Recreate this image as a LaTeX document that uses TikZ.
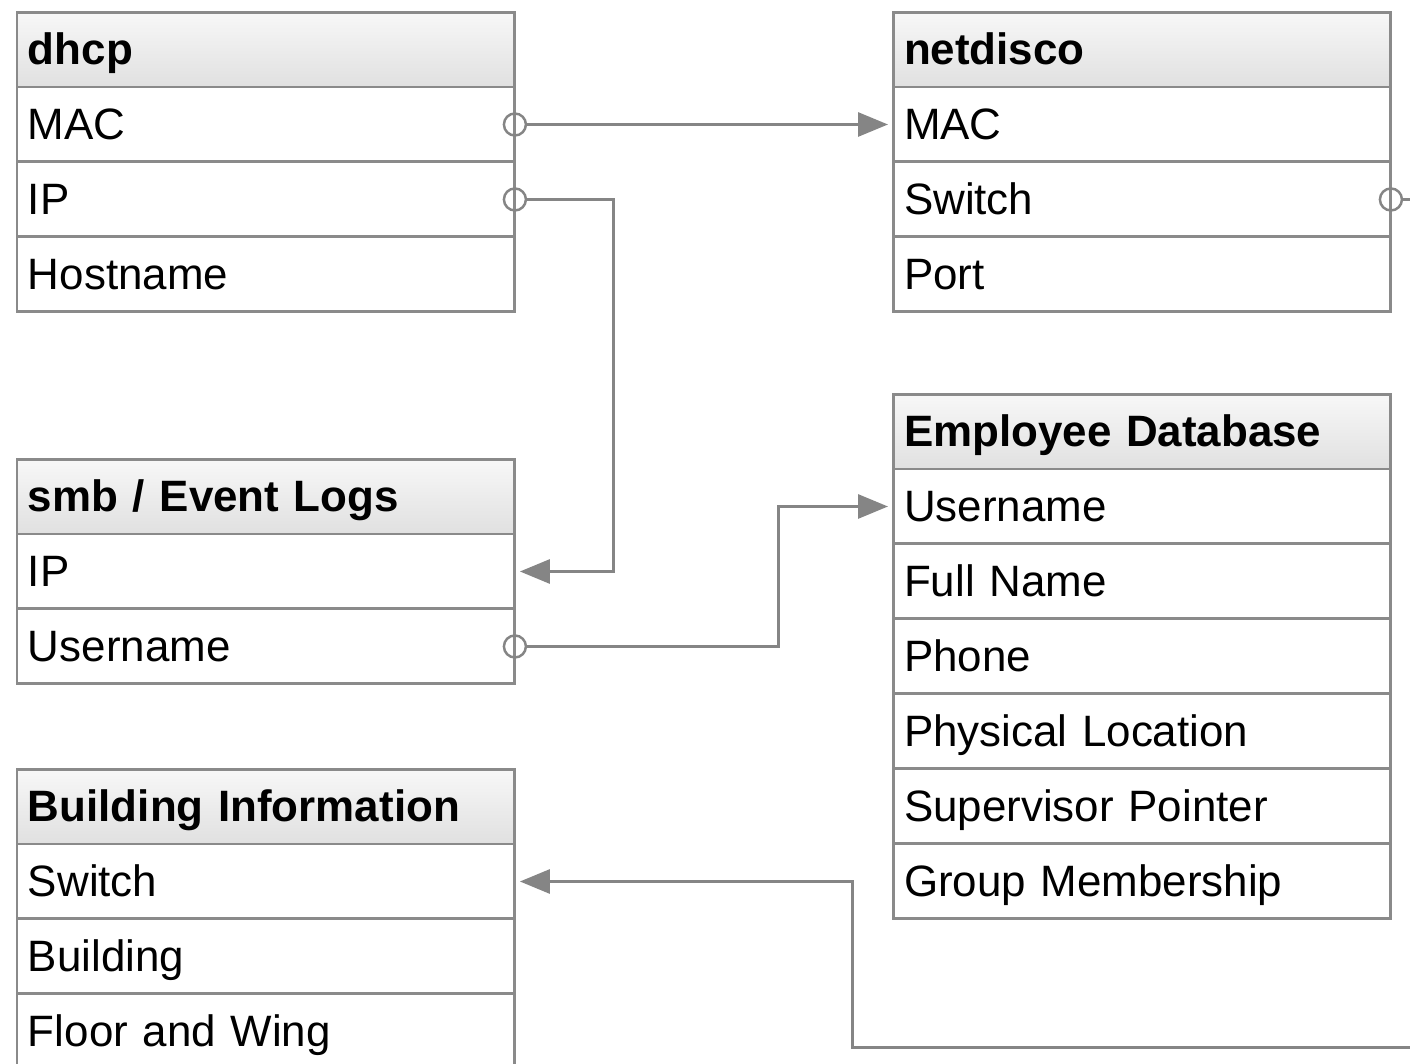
\documentclass[tikz,border=0pt]{standalone}
\usepackage{fontspec}
\setmainfont{Liberation Sans}
\usetikzlibrary{positioning}
\usetikzlibrary{arrows.meta}
\definecolor{framegray}{HTML}{8A8A8A}
\definecolor{linkgray}{HTML}{858585}
\tikzset{
	field/.style={rectangle, draw=framegray, line width=1.7pt, fill=white, outer sep=0pt,
		inner xsep=0.22cm, text width=9.52cm, minimum height=1.5cm, align=left,
		text height=0.7cm, text depth=0.1cm, font=\fontsize{25}{30}\selectfont},
	tabhead/.style={field, top color=white!97!black, bottom color=black!12,
		font=\fontsize{25}{30}\selectfont\bfseries},
	port/.style={circle, draw=linkgray, line width=1.4pt, inner sep=0pt, minimum size=0.44cm},
	fk/.style={draw=linkgray, line width=1.7pt, -{Triangle[length=0.6cm,width=0.48cm]}, shorten >=0.1cm}
}
\begin{document}
\begin{tikzpicture}[x=0.02cm,y=-0.02cm]
	\useasboundingbox (0,0) rectangle (1410,1063);
	% dhcp
	\node[tabhead, anchor=north west] (dhcp) at (17,12) {dhcp};
	\node[field, below=0pt of dhcp] (dhcpmac) {MAC};
	\node[field, below=0pt of dhcpmac] (dhcpip) {IP};
	\node[field, below=0pt of dhcpip] (dhcphost) {Hostname};
	% netdisco
	\node[tabhead, anchor=north west] (nd) at (893,12) {netdisco};
	\node[field, below=0pt of nd] (ndmac) {MAC};
	\node[field, below=0pt of ndmac] (ndswitch) {Switch};
	\node[field, below=0pt of ndswitch] (ndport) {Port};
	% smb / event logs
	\node[tabhead, anchor=north west] (smb) at (17,459) {smb / Event Logs};
	\node[field, below=0pt of smb] (smbip) {IP};
	\node[field, below=0pt of smbip] (smbuser) {Username};
	% employee database
	\node[tabhead, anchor=north west] (emp) at (893,394) {Employee Database};
	\node[field, below=0pt of emp] (empuser) {Username};
	\node[field, below=0pt of empuser] (empname) {Full Name};
	\node[field, below=0pt of empname] (empphone) {Phone};
	\node[field, below=0pt of empphone] (emploc) {Physical Location};
	\node[field, below=0pt of emploc] (empsuper) {Supervisor Pointer};
	\node[field, below=0pt of empsuper] (empgroup) {Group Membership};
	% building information
	\node[tabhead, anchor=north west] (bld) at (17,769) {Building Information};
	\node[field, below=0pt of bld] (bldswitch) {Switch};
	\node[field, below=0pt of bldswitch] (bldbuilding) {Building};
	\node[field, below=0pt of bldbuilding] (bldfloor) {Floor and Wing};
	% ports
	\node[port] (dhcpmacport) at (dhcpmac.east) {};
	\node[port] (dhcpipport) at (dhcpip.east) {};
	\node[port] (smbuserport) at (smbuser.east) {};
	\node[port] (ndswitchport) at (ndswitch.east) {};
	\coordinate (ipbend) at (613,400);
	\coordinate (userbend) at (778,580);
	\coordinate (swbendright) at (1440,1047);
	\coordinate (swbendleft) at (852,1047);
	\draw[fk] (dhcpmacport) -- (ndmac.west);
	\draw[fk] (dhcpipport) -| (ipbend) |- (smbip.east);
	\draw[fk] (smbuserport) -| (userbend) |- (empuser.west);
	\draw[fk] (ndswitchport) -| (swbendright) -- (swbendleft) |- (bldswitch.east);
\end{tikzpicture}
\end{document}
